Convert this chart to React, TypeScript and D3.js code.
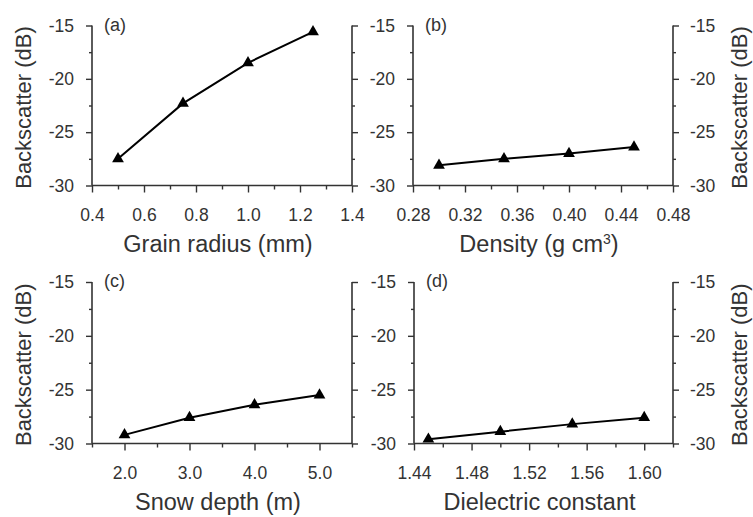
import React, { useEffect, useRef } from 'react';
import * as d3 from 'd3';

// values
const grainRadius = [0.5, 0.75, 1.0, 1.25];
const grainDb = [-27.5, -22.3, -18.5, -15.6];

const density = [0.3, 0.35, 0.4, 0.45];
const densityDb = [-28.1, -27.5, -27.0, -26.4];

const snowDepth = [2.0, 3.0, 4.0, 5.0];
const snowDb = [-29.2, -27.6, -26.4, -25.5];

const dielectric = [1.45, 1.5, 1.55, 1.6];
const dielectricDb = [-29.6, -28.9, -28.2, -27.6];

const yMajor = [-30, -25, -20, -15];
const yMinor = [-27.5, -22.5, -17.5];

const xTicksA = [0.4, 0.6, 0.8, 1.0, 1.2, 1.4];
const xTicksB = [0.28, 0.32, 0.36, 0.4, 0.44, 0.48];
const xTicksC = [2.0, 3.0, 4.0, 5.0];
const xTicksD = [1.44, 1.48, 1.52, 1.56, 1.6];

const yTitle = 'Backscatter (dB)';
const FONT = '"Liberation Sans", Arial, Helvetica, sans-serif';
const TEXT = '#333';

function steps(a, b, s) {
  const n = Math.round((b - a) / s);
  return d3.range(n + 1).map(i => +(a + i * s).toFixed(4));
}

const yFmt = d => String(d); // plain hyphen, like the original

export default function App() {
  const ref = useRef(null);

  useEffect(() => {
    const svg = d3.select(ref.current);
    svg.selectAll('*').remove();

    const panels = [
      { tag: '(a)', xs: grainRadius, ys: grainDb, dom: [0.4, 1.4], major: xTicksA, minorStep: 0.1, fmt: d3.format('.1f'),
        title: 'Grain radius (mm)', left: 92, right: 352, top: 25.5, bottom: 185.5, side: 'left' },
      { tag: '(b)', xs: density, ys: densityDb, dom: [0.28, 0.48], major: xTicksB, minorStep: 0.02, fmt: d3.format('.2f'),
        title: 'Density (g cm', sup: '3', left: 413, right: 673, top: 25.5, bottom: 185.5, side: 'right' },
      { tag: '(c)', xs: snowDepth, ys: snowDb, dom: [1.5, 5.5], major: xTicksC, minorStep: 0.5, fmt: d3.format('.1f'),
        title: 'Snow depth (m)', left: 92, right: 352, top: 282, bottom: 443.5, side: 'left' },
      { tag: '(d)', xs: dielectric, ys: dielectricDb, dom: [1.44, 1.62], major: xTicksD, minorStep: 0.02, fmt: d3.format('.2f'),
        title: 'Dielectric constant', left: 414, right: 673, top: 282, bottom: 443.5, side: 'right' },
    ];

    panels.forEach(p => {
      const x = d3.scaleLinear().domain(p.dom).range([p.left, p.right]);
      const y = d3.scaleLinear().domain([-30, -15]).range([p.bottom, p.top]);
      const g = svg.append('g');

      const minorX = steps(p.dom[0], p.dom[1], p.minorStep)
        .filter(v => !p.major.some(m => Math.abs(m - v) < 1e-6));

      // x axis
      g.append('g').attr('transform', `translate(0,${p.bottom})`)
        .call(d3.axisBottom(x).tickValues(minorX).tickSize(4).tickFormat(() => ''));
      g.append('g').attr('transform', `translate(0,${p.bottom})`)
        .call(d3.axisBottom(x).tickValues(p.major).tickSize(7).tickPadding(16).tickFormat(p.fmt));

      // left axis
      g.append('g').attr('transform', `translate(${p.left},0)`)
        .call(d3.axisLeft(y).tickValues(yMinor).tickSize(3).tickFormat(() => ''));
      g.append('g').attr('transform', `translate(${p.left},0)`)
        .call(d3.axisLeft(y).tickValues(yMajor).tickSize(6).tickPadding(12).tickFormat(yFmt));

      // right axis
      g.append('g').attr('transform', `translate(${p.right},0)`)
        .call(d3.axisRight(y).tickValues(yMinor).tickSize(3).tickFormat(() => ''));
      g.append('g').attr('transform', `translate(${p.right},0)`)
        .call(d3.axisRight(y).tickValues(yMajor).tickSize(6).tickPadding(11)
          .tickFormat(p.side === 'right' ? yFmt : () => ''));

      g.selectAll('.tick line').attr('stroke', '#333').attr('stroke-width', 1.4);
      g.selectAll('.tick text').attr('fill', TEXT).attr('font-size', 17.5).attr('font-family', FONT);

      // axis frames as plain lines (no end stubs)
      g.selectAll('path.domain').remove();
      const frame = [
        [p.left, p.bottom, p.right, p.bottom],
        [p.left, p.top, p.left, p.bottom],
        [p.right, p.top, p.right, p.bottom],
      ];
      frame.forEach(([x1, y1, x2, y2]) => {
        g.append('line').attr('x1', x1).attr('y1', y1).attr('x2', x2).attr('y2', y2)
          .attr('stroke', '#333').attr('stroke-width', 1.6);
      });

      // data
      const pts = p.xs.map((v, i) => [v, p.ys[i]]);
      g.append('path').datum(pts)
        .attr('fill', 'none').attr('stroke', '#000').attr('stroke-width', 2)
        .attr('d', d3.line().x(d => x(d[0])).y(d => y(d[1])));
      g.selectAll('.mk').data(pts).enter().append('path')
        .attr('transform', d => `translate(${x(d[0])},${y(d[1])})`)
        .attr('d', d3.symbol(d3.symbolTriangle, 60))
        .attr('fill', '#000');

      // panel tag
      g.append('text').attr('x', p.left + 12).attr('y', p.top + 5)
        .attr('font-family', FONT).attr('font-size', 18).attr('fill', TEXT).text(p.tag);

      // x title
      const t = g.append('text').attr('x', (p.left + p.right) / 2 - 4).attr('y', p.bottom + 66)
        .attr('text-anchor', 'middle').attr('font-family', FONT).attr('font-size', 23.5).attr('fill', TEXT);
      t.append('tspan').text(p.title);
      if (p.sup) {
        t.append('tspan').attr('font-size', 14).attr('dy', -8).text(p.sup);
        t.append('tspan').attr('dy', 8).text(')');
      }

      // y title
      const cy = (p.top + p.bottom) / 2 + 2;
      const tx = p.side === 'left' ? 23 : 739;
      g.append('text').attr('transform', `translate(${tx},${cy}) rotate(-90)`)
        .attr('text-anchor', 'middle').attr('dominant-baseline', 'central')
        .attr('font-family', FONT).attr('font-size', 22).attr('fill', TEXT).text(yTitle);
    });
  }, []);

  return (
    <svg ref={ref} width={753} height={517}
      style={{ position: 'absolute', left: 0, top: 0, background: '#fff' }} />
  );
}
